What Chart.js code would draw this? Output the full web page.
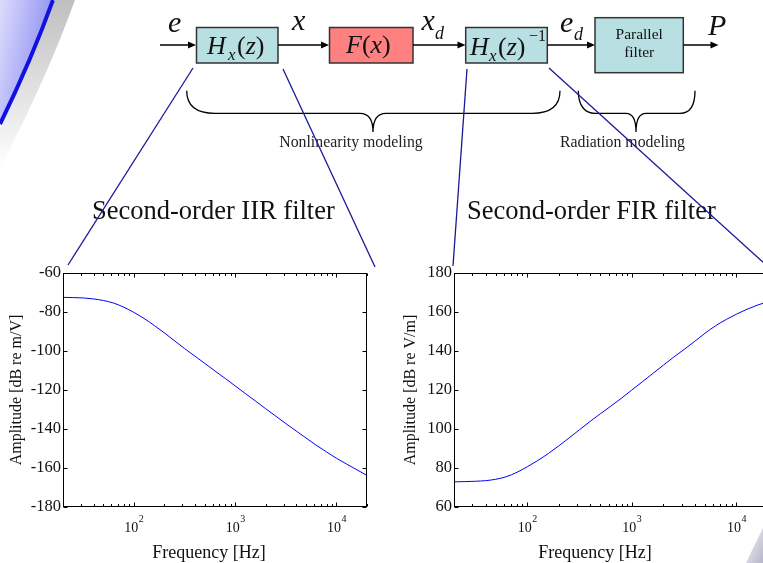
<!DOCTYPE html>
<html><head><meta charset="utf-8">
<script src="https://cdn.jsdelivr.net/npm/chart.js@4.4.0/dist/chart.umd.min.js"></script>
<style>
html,body{margin:0;padding:0;width:763px;height:563px;overflow:hidden;background:#fff;}
#deco,#diagram{position:absolute;left:0;top:0;}
#deco{z-index:0}
.cw{position:absolute;z-index:1}
#diagram{z-index:2;pointer-events:none}
svg text{font-family:"Liberation Serif","Times New Roman",serif;fill:#111;}
</style></head><body>
<svg id="deco" width="763" height="563">
<defs>
<linearGradient id="lav" x1="0" y1="0" x2="1" y2="0.4"><stop offset="0" stop-color="#dcdcfe"/><stop offset="1" stop-color="#8c8cf2"/></linearGradient>
<linearGradient id="gry" x1="0" y1="0" x2="0" y2="1"><stop offset="0" stop-color="#bfbfbf"/><stop offset="1" stop-color="#ffffff"/></linearGradient>
<linearGradient id="br" x1="0" y1="0" x2="1" y2="1"><stop offset="0" stop-color="#f4f4f8"/><stop offset="1" stop-color="#b6b6cc"/></linearGradient>
</defs>
<path d="M0,0 L53,0 Q31,61 0,124 Z" fill="url(#lav)"/>
<path d="M55,0 L75,0 Q46,80 0,168 L0,128 Q33,63 55,0 Z" fill="url(#gry)"/>
<path d="M53,0 Q31,61 0,124" stroke="#1212e0" stroke-width="4" fill="none"/>
<path d="M763,528 Q754,546 746,563 L763,563 Z" fill="url(#br)"/>
</svg>
<div class="cw" style="left:0;top:250px;width:390px;height:313px"><canvas id="c1" width="390" height="313"></canvas></div>
<div class="cw" style="left:390px;top:250px;width:390px;height:313px"><canvas id="c2" width="390" height="313"></canvas></div>
<svg id="diagram" width="763" height="563">
<!-- boxes -->
<rect x="196.5" y="27.5" width="81.5" height="35.5" fill="#b8e0e3" stroke="#333" stroke-width="1.5"/>
<rect x="329.5" y="27.5" width="83.5" height="35.5" fill="#ff8080" stroke="#333" stroke-width="1.5"/>
<rect x="465.7" y="27.5" width="81.6" height="35.5" fill="#b8e0e3" stroke="#333" stroke-width="1.5"/>
<rect x="595" y="17.7" width="88.3" height="55" fill="#b8e0e3" stroke="#333" stroke-width="1.5"/>
<!-- arrows -->
<g stroke="#000" stroke-width="1.5">
<line x1="160" y1="45" x2="190" y2="45"/>
<line x1="278" y1="45" x2="323" y2="45"/>
<line x1="413" y1="45" x2="459" y2="45"/>
<line x1="547.3" y1="45" x2="589" y2="45"/>
<line x1="683.3" y1="45" x2="712" y2="45"/>
</g>
<g fill="#000">
<polygon points="196,45 188,41.5 188,48.5"/>
<polygon points="329,45 321,41.5 321,48.5"/>
<polygon points="465.5,45 457.5,41.5 457.5,48.5"/>
<polygon points="595,45 587,41.5 587,48.5"/>
<polygon points="718.5,45 710.5,41.5 710.5,48.5"/>
</g>
<!-- signal labels -->
<text x="168" y="32" font-size="30" font-style="italic">e</text>
<text x="292" y="30" font-size="30" font-style="italic">x</text>
<text x="421.5" y="30" font-size="30" font-style="italic">x</text>
<text x="435" y="39" font-size="18" font-style="italic">d</text>
<text x="560" y="32" font-size="30" font-style="italic">e</text>
<text x="574" y="40" font-size="18" font-style="italic">d</text>
<text x="708" y="35" font-size="30" font-style="italic">P</text>
<!-- box labels -->
<text y="54" font-size="26"><tspan x="207" font-style="italic">H</tspan><tspan x="228" y="60" font-size="17" font-style="italic">x</tspan><tspan x="237" y="54">(</tspan><tspan font-style="italic">z</tspan><tspan>)</tspan></text>
<text x="346" y="53" font-size="26"><tspan font-style="italic">F</tspan>(<tspan font-style="italic">x</tspan>)</text>
<text y="55" font-size="26"><tspan x="470" font-style="italic">H</tspan><tspan x="489" y="61" font-size="17" font-style="italic">x</tspan><tspan x="498" y="55">(</tspan><tspan font-style="italic">z</tspan><tspan>)</tspan><tspan x="529" y="41" font-size="16">−1</tspan></text>
<text x="639.2" y="39.3" font-size="15.5" text-anchor="middle">Parallel</text>
<text x="639.2" y="56.7" font-size="15.5" text-anchor="middle">filter</text>
<!-- braces -->
<g stroke="#000" stroke-width="1.3" fill="none">
<path d="M186.7,90.7 C186.7,106 197,113.3 215,113.3 L360,113.3 C368,113.3 373,118 373,132 C373,118 378,113.3 386,113.3 L532,113.3 C550,113.3 560,106 560,90.7"/>
<path d="M578.3,90.7 C578.3,106 585,113.3 595,113.3 L626,113.3 C632,113.3 636,118 636,132 C636,118 640,113.3 646,113.3 L680,113.3 C690,113.3 695,106 695,90.7"/>
</g>
<text x="351" y="146.5" font-size="15.8" text-anchor="middle" style="fill:#222">Nonlinearity modeling</text>
<text x="622.5" y="146.7" font-size="15.8" text-anchor="middle" style="fill:#222">Radiation modeling</text>
<!-- plot titles -->
<text x="92" y="219" font-size="26.5">Second-order IIR filter</text>
<text x="467" y="219" font-size="26.5">Second-order FIR filter</text>
<!-- zoom lines -->
<g stroke="#1a1a96" stroke-width="1.3">
<line x1="193" y1="68" x2="68" y2="265"/>
<line x1="283" y1="69" x2="375" y2="267"/>
<line x1="467" y1="69" x2="453" y2="266"/>
<line x1="549" y1="68" x2="770" y2="268.6"/>
</g>
</svg>
<script>
// ---- data ----
const freqHz   = [20, 25, 32, 40, 50, 63, 80, 100, 126, 160, 200, 250, 316, 400, 500, 630, 800, 1000, 1260, 1600, 2000, 2500, 3160, 4000, 5000, 6300, 8000, 10000, 12600, 16000, 20000];
const iirAmpDb = [-72.5, -72.6, -72.8, -73.3, -74.1, -75.4, -77.6, -80.2, -83.3, -87.0, -90.7, -94.6, -98.7, -102.6, -106.3, -110.2, -114.1, -117.9, -121.8, -125.8, -129.6, -133.3, -137.2, -141.0, -144.6, -148.3, -151.8, -155.0, -158.0, -161.0, -163.8];
const firAmpDb = [72.9, 73.0, 73.2, 73.5, 74.2, 75.5, 77.8, 80.6, 83.8, 87.5, 91.3, 95.3, 99.6, 103.9, 107.8, 111.7, 115.9, 120.0, 124.2, 128.6, 132.7, 136.8, 140.8, 145.0, 149.1, 152.9, 156.2, 158.9, 161.4, 163.6, 165.3];
const xTickValues = [20,30,40,50,60,70,80,90,100,200,300,400,500,600,700,800,900,1000,2000,3000,4000,5000,6000,7000,8000,9000,10000,20000];
const xLabelPowers = [2, 3, 4];
const xRange = [20, 20000];
const iirYRange = [-180, -60];
const firYRange = [60, 180];
const yStep = 20;
const xTitleText = 'Frequency [Hz]';
const iirYTitle = 'Amplitude [dB re m/V]';
const firYTitle = 'Amplitude [dB re V/m]';

const serif = '"Liberation Serif","Times New Roman",serif';

const matlabAxes = {
  id: 'matlabAxes',
  afterDatasetsDraw(chart, args, opts) {
    const {ctx, chartArea: a} = chart;
    const x = chart.scales.x, y = chart.scales.y;
    ctx.save();
    ctx.strokeStyle = '#000'; ctx.lineWidth = 1;
    const L = Math.round(a.left) + 0.5, R = Math.round(a.right) - 0.5;
    const T = Math.round(a.top) + 0.5, B = Math.round(a.bottom) - 0.5;
    ctx.strokeRect(L, T, R - L, B - T);
    ctx.beginPath();
    x.ticks.forEach(t => {
      const px = Math.round(x.getPixelForValue(t.value)) + 0.5;
      const lg = Math.log10(t.value);
      const len = Math.abs(lg - Math.round(lg)) < 1e-6 ? 4 : 2.5;
      ctx.moveTo(px, B); ctx.lineTo(px, B - len);
      ctx.moveTo(px, T); ctx.lineTo(px, T + len);
    });
    y.ticks.forEach(t => {
      const py = Math.round(y.getPixelForValue(t.value)) + 0.5;
      ctx.moveTo(L, py); ctx.lineTo(L + 4, py);
      ctx.moveTo(R, py); ctx.lineTo(R - 4, py);
    });
    ctx.stroke();
    ctx.fillStyle = '#111'; ctx.textBaseline = 'alphabetic'; ctx.textAlign = 'left';
    xLabelPowers.forEach(p => {
      const px = x.getPixelForValue(Math.pow(10, p));
      ctx.font = '14px ' + serif; const w1 = ctx.measureText('10').width;
      ctx.font = '10px ' + serif; const w2 = ctx.measureText(String(p)).width;
      const x0 = px - (w1 + w2) / 2;
      ctx.font = '14px ' + serif; ctx.fillText('10', x0, a.bottom + 25);
      ctx.font = '10px ' + serif; ctx.fillText(String(p), x0 + w1 + 0.5, a.bottom + 15);
    });
    ctx.font = '18px ' + serif; ctx.textAlign = 'center';
    ctx.fillText(opts.xTitle, a.left + opts.xTitleOffset, a.bottom + 51);
    ctx.restore();
  }
};

function makeChart(id, values, yRange, yTitle, yTitlePad, yAxisWidth, rightPad, xTitleOffset) {
  return new Chart(document.getElementById(id), {
    type: 'line',
    data: {
      datasets: [{
        data: freqHz.map((f, i) => ({x: f, y: values[i]})),
        borderColor: '#0000ff', borderWidth: 1, pointRadius: 0,
        cubicInterpolationMode: 'monotone', fill: false
      }]
    },
    options: {
      responsive: false, animation: false, devicePixelRatio: 1,
      layout: {padding: {top: 23, right: rightPad, left: 0, bottom: 0}},
      plugins: {
        legend: {display: false}, tooltip: {enabled: false},
        matlabAxes: {xTitle: xTitleText, xTitleOffset: xTitleOffset}
      },
      scales: {
        x: {
          type: 'logarithmic', min: xRange[0], max: xRange[1],
          grid: {display: false}, border: {display: false},
          ticks: {display: false},
          afterBuildTicks: s => { s.ticks = xTickValues.map(v => ({value: v})); },
          afterFit: s => { s.height = 56; }
        },
        y: {
          type: 'linear', min: yRange[0], max: yRange[1],
          grid: {display: false, drawTicks: false}, border: {display: false},
          ticks: {stepSize: yStep, padding: 2, color: '#111', font: {family: serif, size: 16.5}},
          title: {display: true, text: yTitle, color: '#111', font: {family: serif, size: 16}, padding: {top: yTitlePad, bottom: 0}},
          afterFit: s => { s.width = yAxisWidth; }
        }
      }
    },
    plugins: [matlabAxes]
  });
}

makeChart('c1', iirAmpDb, iirYRange, iirYTitle, 7.4, 63, 23, 146);
makeChart('c2', firAmpDb, firYRange, firYTitle, 11.1, 64, 12, 141);
</script>
</body></html>
